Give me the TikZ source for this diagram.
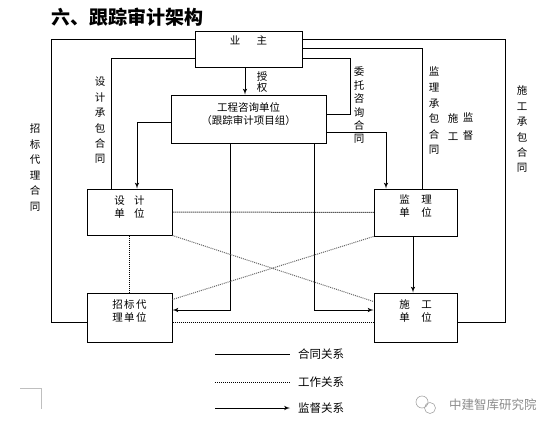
\documentclass[tikz,border=0pt]{standalone}
\usepackage{fontspec}
\setmainfont{Noto Sans CJK SC}
\usetikzlibrary{shapes,arrows,positioning}
\tikzstyle{unit} = [rectangle, draw, line width=1pt, align=center, inner sep=0pt, text depth=1.3pt, font=\fontsize{10.5}{13}\selectfont]
\tikzstyle{vtext} = [align=center, inner sep=0pt, font=\fontsize{10.5}{15.5}\selectfont]
\tikzstyle{legtext} = [anchor=west, inner sep=0pt, font=\fontsize{11.5}{13}\selectfont]
\tikzstyle{line} = [draw, line width=1pt]
\tikzstyle{watch} = [draw, line width=1pt, -latex']
\tikzstyle{work} = [draw, line width=1pt, dash pattern=on 1pt off 1pt]
\tikzstyle{cross} = [work, black!60]

\begin{document}
\begin{tikzpicture}[x=1pt, y=-1pt]
    \useasboundingbox (0,0) rectangle (557,431);
    % Place nodes
    \node [font=\fontsize{19}{19}\selectfont\bfseries] (title) at (127,17) {六、跟踪审计架构};
    \node [unit, minimum width=107, minimum height=36, text height=9pt, text depth=17.2pt] (owner) at (248.5,49) {业\hspace{16.5pt}主};
    \node [unit, minimum width=155, minimum height=48, text height=13.1pt] (consult) at (248.5,119) {工程咨询单位\\（跟踪审计项目组）};
    \node [unit, minimum width=85, minimum height=46, text height=12.1pt] (design) at (129.5,212) {设\hspace{9.5pt}计\\单\hspace{9.5pt}位};
    \node [unit, minimum width=83, minimum height=47, text height=10.1pt] (superv) at (415.5,212.5) {监\hspace{11.5pt}理\\单\hspace{11.5pt}位};
    \node [unit, minimum width=85, minimum height=49, text height=10.1pt] (agent) at (129.5,317.5) {招\hspace{1.5pt}标\hspace{1.5pt}代\\理\hspace{1.5pt}单\hspace{1.5pt}位};
    \node [unit, minimum width=83, minimum height=49, text height=10.1pt] (contr) at (415.5,317.5) {施\hspace{11.5pt}工\\单\hspace{11.5pt}位};
    % Vertical labels
    \node [vtext] (bidlabel) at (35,167.5) {招\\标\\代\\理\\合\\同};
    \node [vtext, font=\fontsize{10.5}{15.4}\selectfont] (deslabel) at (100,120.5) {设\\计\\承\\包\\合\\同};
    \node [vtext, font=\fontsize{10.5}{11}\selectfont] (authlabel) at (262,82) {授\\权};
    \node [vtext, font=\fontsize{10.5}{13.4}\selectfont] (conlabel) at (359,105.5) {委\\托\\咨\\询\\合\\同};
    \node [vtext, font=\fontsize{10.5}{15.6}\selectfont] (svlabel) at (434,111) {监\\理\\承\\包\\合\\同};
    \node [vtext, font=\fontsize{10.5}{18}\selectfont] (worklabel) at (453,127) {施\\工};
    \node [vtext, font=\fontsize{10.5}{18}\selectfont] (watchlabel) at (468,127) {监\\督};
    \node [vtext, font=\fontsize{10.5}{15.4}\selectfont] (ctlabel) at (522,129.5) {施\\工\\承\\包\\合\\同};
    % Corners of the routes
    \coordinate (c-bid) at (51,322);
    \coordinate (c-des) at (111,58);
    \coordinate (c-con) at (505,39.5);
    \coordinate (c-sv) at (422,48);
    \coordinate (c-cs) at (350,58);
    \coordinate (c-cs2) at (350,114);
    \coordinate (c-dl) at (137,122);
    \coordinate (c-sr) at (386,132);
    \coordinate (c-al) at (230,310);
    \coordinate (c-cr) at (314,310);
    % Draw edges
    \path [line] (owner.west |- c-con) -| (c-bid) -- (agent.west |- c-bid);
    \path [line] (owner.west |- c-des) -- (c-des) -- (design.north -| c-des);
    \path [line] (owner.east |- c-con) -- (c-con) |- (contr.east |- c-bid);
    \path [line] (owner.east |- c-sv) -| (superv.north -| c-sv);
    \path [line] (owner.east |- c-cs) -| (c-cs2) -- (consult.east |- c-cs2);
    \path [watch] ([xshift=-3.5pt]owner.south) -- ([xshift=-3.5pt]consult.north);
    \path [watch] (consult.west |- c-dl) -| (design.north -| c-dl);
    \path [watch] (consult.east |- c-sr) -| (superv.north -| c-sr);
    \path [watch] (consult.south -| c-al) |- (agent.east |- c-al);
    \path [watch] (consult.south -| c-cr) |- (contr.west |- c-cr);
    \path [watch] ([xshift=-2.5pt]superv.south) -- ([xshift=-2.5pt]contr.north);
    \path [work] (design) -- (superv);
    \path [work] (design) -- (agent);
    \path [work] (agent.east |- c-bid) -- (contr.west |- c-bid);
    \path [cross] (design.south east) -- ([yshift=-9pt]contr.north west);
    \path [cross] (superv.south west) -- ([yshift=-7pt]agent.north east);
    % Legend
    \node [legtext] (leg1) at (298,354) {合同关系};
    \node [legtext] (leg2) at (298,382) {工作关系};
    \node [legtext] (leg3) at (298,408) {监督关系};
    \path [line] ([xshift=-83pt]leg1.west) -- ([xshift=-8pt]leg1.west);
    \path [work] ([xshift=-83pt]leg2.west) -- ([xshift=-8pt]leg2.west);
    \path [watch] ([xshift=-83pt]leg3.west) -- ([xshift=-8pt]leg3.west);
    % Watermark and page mark
    \node [anchor=west, inner sep=0pt, text=black!45, font=\fontsize{12.5}{13}\selectfont] (mark) at (449,405) {中建智库研究院};
    \draw [black!35, line width=0.6pt] (422,402) circle (6) (430,408) circle (5.5);
    \draw [black!25, line width=1pt] (20,388) -- (41,388) -- (41,409);
\end{tikzpicture}
\end{document}
